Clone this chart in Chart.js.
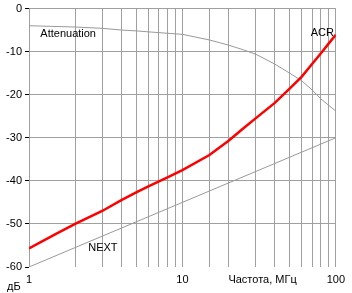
<!DOCTYPE html>
<html><head><meta charset="utf-8">
<script src="https://cdn.jsdelivr.net/npm/chart.js@4/dist/chart.umd.min.js"></script>
<style>html,body{margin:0;padding:0;background:#fff}canvas{display:block}</style>
</head><body>
<canvas id="c" width="352" height="293"></canvas>
<script>
// Frequencies (MHz) and values (dB)
const acrFreq = [1, 1.5, 2, 3, 4, 5, 6, 8, 10, 15, 20, 25, 30, 40, 50, 60, 70, 80, 90, 100];
const acrDb   = [-55.7, -52.3, -50.0, -47.0, -44.5, -42.7, -41.3, -39.2, -37.5, -34.0, -30.7, -27.8, -25.5, -21.9, -18.6, -15.8, -12.9, -10.4, -8.1, -6.1];
const attFreq = [1, 2, 3, 4, 5, 7, 10, 15, 20, 25, 30, 40, 50, 60, 70, 80, 90, 100];
const attDb   = [-4.0, -4.3, -4.6, -5.0, -5.2, -5.6, -6.0, -7.3, -8.5, -9.6, -10.6, -12.9, -15.0, -16.8, -18.9, -21.0, -22.5, -23.8];
const nextFreq = [1, 10, 100];
const nextDb   = [-60, -45, -30];
const xTickLabels = [1, 10, 100];
const yTicks = [0, -10, -20, -30, -40, -50, -60];
const seriesLabels = { att: 'Attenuation', acr: 'ACR', next: 'NEXT' };
const xTitle = 'Частота, МГц';
const yTitle = 'дБ';

const FONT = '"Liberation Sans", Arial, sans-serif';
const pts = (f, v) => f.map((x, i) => ({ x: x, y: v[i] }));

const textPlugin = {
  id: 'texts',
  afterDraw(chart) {
    const ctx = chart.ctx;
    const xs = chart.scales.x, ys = chart.scales.y;
    ctx.save();
    ctx.font = '11px ' + FONT;
    ctx.fillStyle = '#000';
    ctx.textBaseline = 'middle';
    ctx.textAlign = 'center';
    ctx.fillText(seriesLabels.att, xs.getPixelForValue(1.80), ys.getPixelForValue(-6.0));
    ctx.fillText(seriesLabels.acr, xs.getPixelForValue(81.7), ys.getPixelForValue(-5.75));
    ctx.fillText(seriesLabels.next, xs.getPixelForValue(3.03), ys.getPixelForValue(-55.6));
    ctx.fillText(xTitle, xs.getPixelForValue(33.3), xs.top + 13);
    ctx.textAlign = 'left';
    ctx.fillText(yTitle, 7, 287);
    ctx.restore();
  }
};

new Chart(document.getElementById('c'), {
  type: 'line',
  data: {
    datasets: [
      { label: seriesLabels.acr, data: pts(acrFreq, acrDb), borderColor: '#ff0000', borderWidth: 2.5, pointRadius: 0, tension: 0 },
      { label: seriesLabels.att, data: pts(attFreq, attDb), borderColor: '#999999', borderWidth: 1, pointRadius: 0, tension: 0 },
      { label: seriesLabels.next, data: pts(nextFreq, nextDb), borderColor: '#999999', borderWidth: 1, pointRadius: 0, tension: 0 }
    ]
  },
  options: {
    responsive: false,
    animation: false,
    layout: { padding: { top: 6, right: 16, left: 0, bottom: 0 } },
    plugins: { legend: { display: false }, tooltip: { enabled: false } },
    scales: {
      x: {
        type: 'logarithmic', min: 1, max: 100,
        afterFit: s => { s.height = 26; },
        border: { display: false },
        grid: { color: '#a0a0a0', lineWidth: 1, drawTicks: false },
        ticks: {
          autoSkip: false, maxRotation: 0, minRotation: 0, padding: 7,
          color: '#000', font: { family: FONT, size: 11, lineHeight: 1 },
          callback: v => xTickLabels.includes(v) ? String(v) : ''
        }
      },
      y: {
        min: -60, max: 0,
        afterFit: s => { s.width = 29; },
        afterBuildTicks: s => { s.ticks = yTicks.map(v => ({ value: v })); },
        border: { display: false },
        grid: {
          color: c => (c.tick && c.tick.value === -60) ? 'rgba(0,0,0,0)' : '#a0a0a0',
          lineWidth: 1, tickColor: '#000', tickLength: 4
        },
        ticks: { padding: 3, color: '#000', font: { family: FONT, size: 11, lineHeight: 1 } }
      }
    }
  },
  plugins: [textPlugin]
});
</script>
</body></html>
